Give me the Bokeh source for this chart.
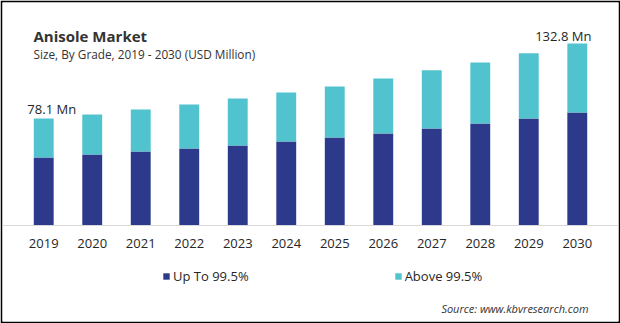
from bokeh.plotting import figure
from bokeh.models import (ColumnDataSource, FactorRange, Range1d, Label, Legend,
                          LegendItem)
from bokeh.core.properties import value
from bokeh.embed import file_html
from bokeh.resources import INLINE

years = ["2019", "2020", "2021", "2022", "2023", "2024", "2025", "2026",
         "2027", "2028", "2029", "2030"]
up_to_995 = [49.6, 51.8, 54.0, 56.2, 58.4, 61.3, 64.2, 67.2, 70.8, 74.5, 78.1, 82.5]
above_995 = [28.5, 29.2, 30.7, 32.1, 34.3, 35.8, 37.3, 40.1, 42.4, 44.5, 47.5, 50.3]
series_names = ["Up To 99.5%", "Above 99.5%"]
first_label = "78.1 Mn"
last_label = "132.8 Mn"
title_text = "Anisole Market"
subtitle_text = "Size, By Grade, 2019 - 2030 (USD Million)"
source_text = "Source: www.kbvresearch.com"

FONT = "Open Sans"
NAVY = "#2d3a8c"
TEAL = "#50c3cf"
TXT = "#262626"

totals = [a + b for a, b in zip(up_to_995, above_995)]
src = ColumnDataSource(dict(year=years, up=up_to_995, above=above_995, total=totals))

W, H = 620, 323
BW = 2                       # black border drawn by border fill
FT, FBm = BW, H - BW         # frame top / bottom in canvas px
BASE = 225                   # pixel row of value 0
k = 182.0 / totals[-1]       # px per unit
y_end = (BASE - FT) / k
y_start = -(FBm - BASE) / k

p = figure(width=W, height=H, x_range=FactorRange(*years), y_range=Range1d(y_start, y_end),
           output_backend="svg", toolbar_location=None, y_axis_location=None,
           min_border_left=BW, min_border_right=BW, min_border_top=BW, min_border_bottom=BW,
           background_fill_color="white", border_fill_color="black")
p.outline_line_color = None
p.xgrid.grid_line_color = None
p.ygrid.grid_line_color = None
p.x_range.range_padding = 0.35
p.x_range.range_padding_units = "absolute"

rs = p.vbar_stack(["up", "above"], x="year", width=0.41, color=[NAVY, TEAL],
                  source=src, line_color=None)

ax = p.xaxis[0]
ax.fixed_location = 0
ax.axis_line_color = "#d9d9d9"
ax.axis_line_width = 1
ax.major_tick_line_color = None
ax.minor_tick_line_color = None
ax.major_tick_out = 0
ax.major_tick_in = 0
ax.major_label_standoff = 13
ax.major_label_text_font = FONT
ax.major_label_text_font_size = "13px"
ax.major_label_text_color = TXT

# value labels on first and last bars
p.text(x=[years[0]], y=[totals[0]], text=[first_label], text_font=value(FONT),
       text_font_size="13px", text_color=TXT, text_align="center",
       text_baseline="alphabetic", x_offset=8, y_offset=-9)
p.text(x=[years[-1]], y=[totals[-1]], text=[last_label], text_font=value(FONT),
       text_font_size="13px", text_color=TXT, text_align="center",
       text_baseline="alphabetic", x_offset=-14, y_offset=-8)

def sx(px):
    return px - BW

def sy(py):
    return FBm - py

p.add_layout(Label(x=sx(33), y=sy(35), x_units="screen", y_units="screen",
                   text=title_text, text_font=FONT, text_font_size="15px",
                   text_font_style="bold", text_color="#333333", text_baseline="alphabetic"))
p.add_layout(Label(x=sx(33), y=sy(53), x_units="screen", y_units="screen",
                   text=subtitle_text, text_font=FONT, text_font_size="11.8px",
                   text_color="#333333", text_baseline="alphabetic"))
p.add_layout(Label(x=sx(588), y=sy(308), x_units="screen", y_units="screen",
                   text=source_text, text_font=FONT, text_font_size="11px",
                   text_font_style="italic", text_color="#333333", text_align="right",
                   text_baseline="alphabetic"))

lg = Legend(items=[LegendItem(label=n, renderers=[r]) for n, r in zip(series_names, rs)],
            location=(sx(162), sy(285)), orientation="horizontal", padding=0, margin=0,
            border_line_color=None, background_fill_alpha=0, glyph_width=8, glyph_height=8,
            label_standoff=3, label_height=16, label_text_font=FONT,
            label_text_font_size="13px", label_text_color=TXT, spacing=145)
p.add_layout(lg, "center")

open("out.html", "w").write(file_html(p, INLINE))
